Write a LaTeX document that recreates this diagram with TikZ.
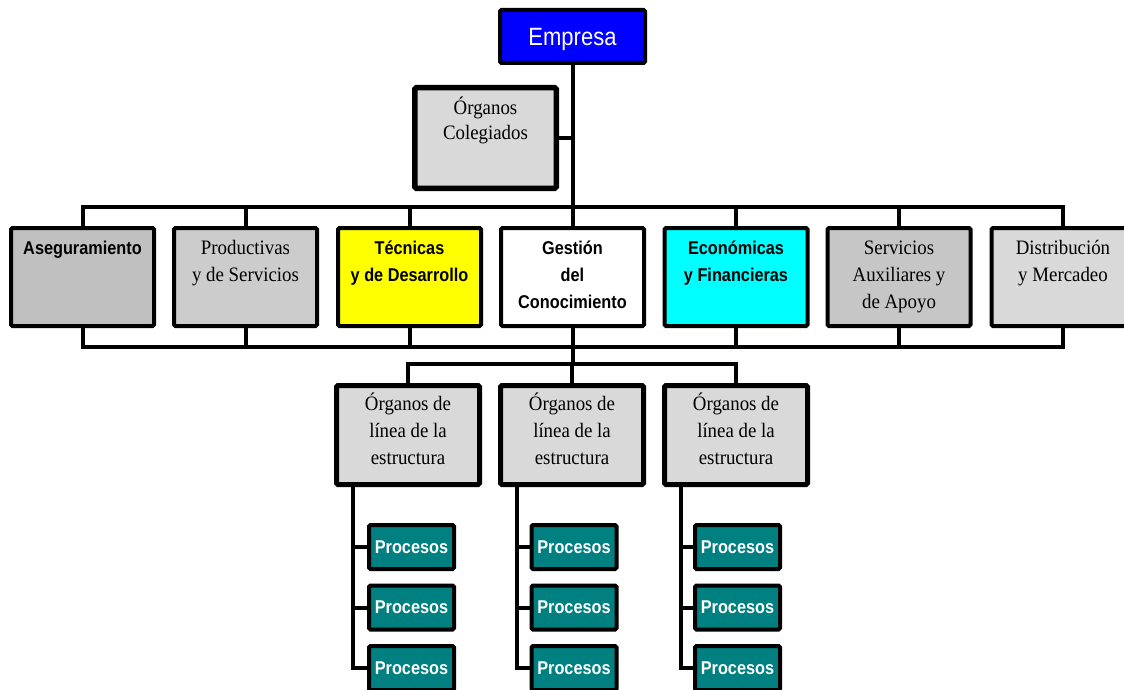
\documentclass[tikz,border=0pt]{standalone}
\usepackage{fontspec}
\setmainfont{Liberation Sans}
\newfontfamily\serifface[FakeStretch=0.92]{Liberation Serif}
\newfontfamily\narrowsans[FakeStretch=0.88]{Liberation Sans}
\usetikzlibrary{backgrounds}

\definecolor{empblue}{RGB}{0,0,255}
\definecolor{greyA}{RGB}{192,192,192}
\definecolor{greyB}{RGB}{204,204,204}
\definecolor{greyC}{RGB}{198,198,198}
\definecolor{greyD}{RGB}{217,217,217}
\definecolor{yell}{RGB}{255,255,0}
\definecolor{cyanbox}{RGB}{0,255,255}
\definecolor{tealbox}{RGB}{0,128,128}

\newcommand{\topstrut}{\rule{0pt}{18pt}}

\tikzset{
  boxbase/.style={draw=black, rounded corners=1.5pt, inner sep=0pt},
  unitbox/.style={boxbase, line width=4pt, minimum width=143pt, minimum height=98pt},
  linebox/.style={boxbase, line width=5pt, fill=greyD, minimum width=143pt, minimum height=99pt},
  procbox/.style={boxbase, line width=4pt, fill=tealbox, minimum width=85pt, minimum height=44pt,
    text=white, text depth=0pt, font=\narrowsans\bfseries\fontsize{18.5}{20}\selectfont},
  boldtxt/.style={anchor=north, inner sep=0pt, align=center,
    font=\narrowsans\bfseries\fontsize{18.5}{27}\selectfont},
  seriftxt/.style={anchor=north, inner sep=0pt, align=center,
    font=\serifface\fontsize{20.5}{27}\selectfont},
  wire/.style={line width=4pt, line cap=rect, line join=miter},
}

\begin{document}
\begin{tikzpicture}[x=1pt,y=-1pt]
\useasboundingbox (0,0) rectangle (1124,690);

% top of the tree
\node[boxbase, line width=4pt, fill=empblue, minimum width=145pt, minimum height=53pt,
  text=white, text depth=0pt, font=\narrowsans\fontsize{25}{28}\selectfont] (emp) at (572.5,36.5) {Empresa};
\node[boxbase, line width=5.5pt, fill=greyD, minimum width=141.5pt, minimum height=100.5pt]
  (coleg) at (485.5,138) {};
\node[seriftxt, font=\serifface\fontsize{20.5}{25}\selectfont] (tcoleg) at ([yshift=-11pt]coleg.north)
  {\topstrut Órganos\\Colegiados};

% bus levels
\coordinate (topbus) at (0,207);
\coordinate (botbus) at (0,347);
\coordinate (lowbus) at (0,364);

% row of functional units
\node[unitbox, fill=greyA]   (b1) at (82.5,277)  {};
\node[unitbox, fill=greyB]   (b2) at (245.5,277) {};
\node[unitbox, fill=yell]    (b3) at (409.5,277) {};
\node[unitbox, fill=white]   (b4) at (572.5,277) {};
\node[unitbox, fill=cyanbox] (b5) at (736,277)   {};
\node[unitbox, fill=greyC]   (b6) at (899,277)   {};
\node[unitbox, fill=greyD]   (b7) at (1063,277)  {};

\node[boldtxt]  (t1) at ([yshift=-10pt]b1.north) {\topstrut Aseguramiento};
\node[seriftxt] (t2) at ([yshift=-10pt]b2.north) {\topstrut Productivas\\y de Servicios};
\node[boldtxt]  (t3) at ([yshift=-10pt]b3.north) {\topstrut Técnicas\\y de Desarrollo};
\node[boldtxt]  (t4) at ([yshift=-10pt]b4.north) {\topstrut Gestión\\del\\Conocimiento};
\node[boldtxt]  (t5) at ([yshift=-10pt]b5.north) {\topstrut Económicas\\y Financieras};
\node[seriftxt] (t6) at ([yshift=-10pt]b6.north) {\topstrut Servicios\\Auxiliares y\\de Apoyo};
\node[seriftxt] (t7) at ([yshift=-10pt]b7.north) {\topstrut Distribución\\y Mercadeo};

% line units
\node[linebox] (l1) at (408,435) {};
\node[linebox] (l2) at (572,435) {};
\node[linebox] (l3) at (736,435) {};
\foreach \i in {1,2,3}{
  \node[seriftxt] (tl\i) at ([yshift=-9.5pt]l\i.north) {\topstrut Órganos de\\línea de la\\estructura};
}

% processes
\foreach \i/\x in {1/411.5,2/574,3/737.5}{
  \node[procbox] (p\i a) at (\x,547)   {Procesos};
  \node[procbox] (p\i b) at (\x,607.5) {Procesos};
  \node[procbox] (p\i c) at (\x,668)   {Procesos};
  \coordinate (s\i) at ([xshift=-55pt]l\i.south);
}

\begin{scope}[on background layer]
  % main stem and staff unit
  \draw[wire] (emp.south) -- (b4.north);
  \draw[wire] (coleg.east) -- (coleg.east -| emp.south);
  % upper and lower buses of the functional row
  \draw[wire] (b1.north |- topbus) -- (b7.north |- topbus);
  \draw[wire] (b1.south |- botbus) -- (b7.south |- botbus);
  \foreach \b in {b1,b2,b3,b5,b6,b7}{
    \draw[wire] (\b.north) -- (\b.north |- topbus);
    \draw[wire] (\b.south) -- (\b.south |- botbus);
  }
  % branch to the line units
  \draw[wire] (b4.south) -- (b4.south |- lowbus);
  \draw[wire] (l1.north |- lowbus) -- (l3.north |- lowbus);
  \foreach \l in {l1,l2,l3}{
    \draw[wire] (\l.north) -- (\l.north |- lowbus);
  }
  % process spines
  \foreach \i in {1,2,3}{
    \draw[wire] (s\i) -- (s\i |- p\i c.west);
    \draw[wire] (p\i a.west) -- (p\i a.west -| s\i);
    \draw[wire] (p\i b.west) -- (p\i b.west -| s\i);
    \draw[wire] (p\i c.west) -- (p\i c.west -| s\i);
  }
\end{scope}
\end{tikzpicture}
\end{document}
